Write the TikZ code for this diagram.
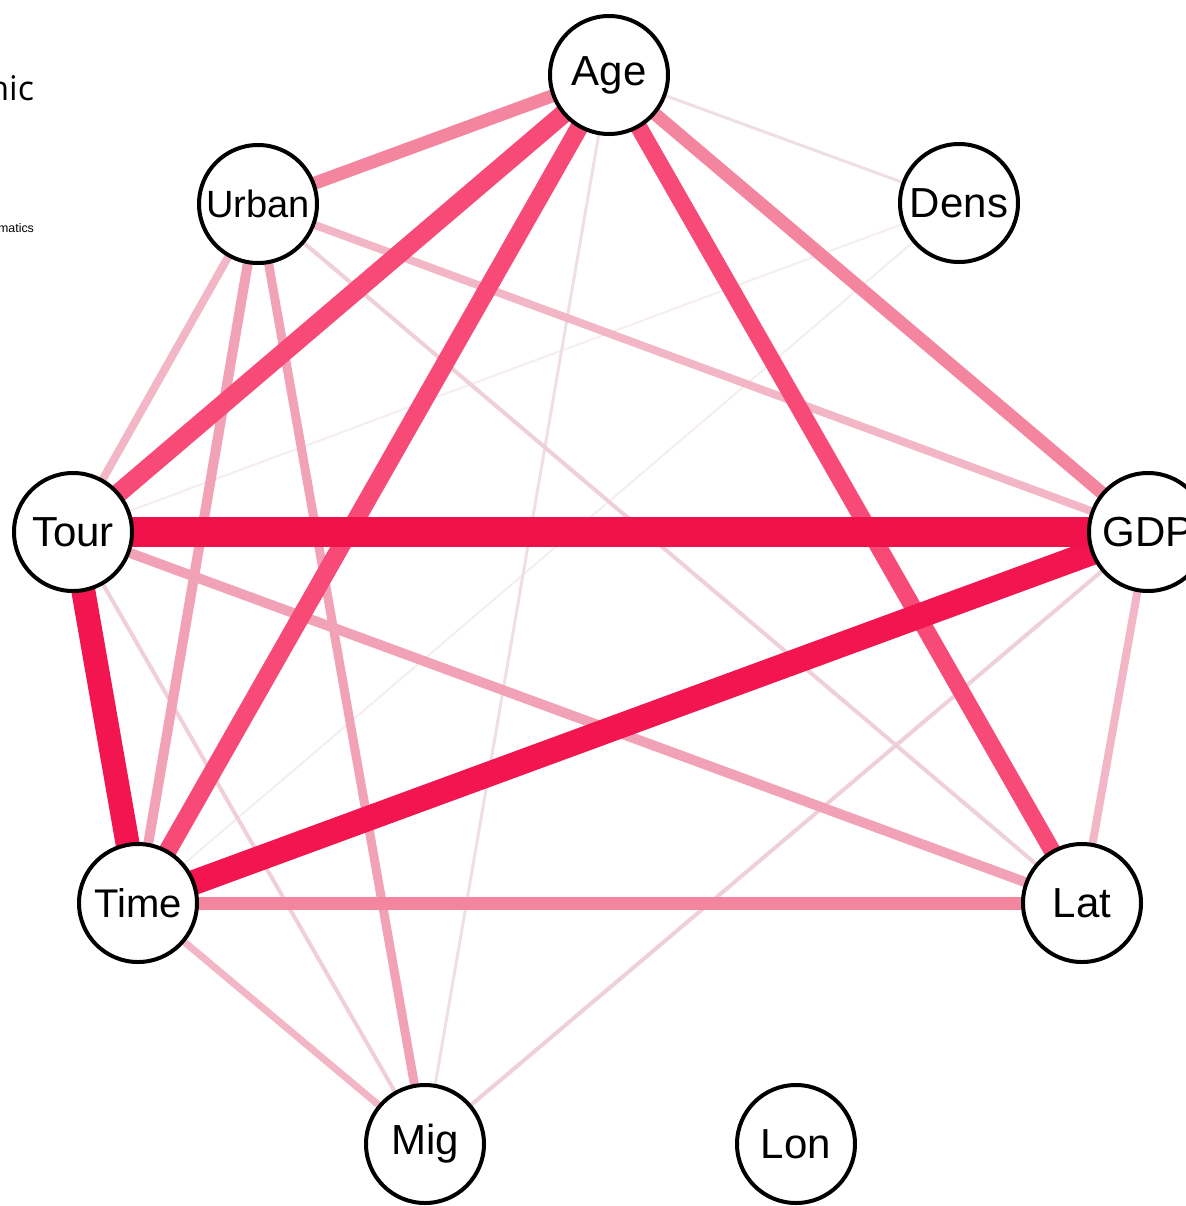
\documentclass[tikz,border=0pt]{standalone}
\usepackage{fontspec}
\setmainfont{Liberation Sans}
\newfontfamily\opensans{Open Sans}
\usetikzlibrary{backgrounds}
\definecolor{netA}{HTML}{F0104A}
\definecolor{netB}{HTML}{F21550}
\definecolor{netC}{HTML}{F74A76}
\definecolor{netD}{HTML}{F4859F}
\definecolor{netE}{HTML}{F2A2B7}
\definecolor{netF}{HTML}{F2B6C6}
\definecolor{netG}{HTML}{EFCFD8}
\definecolor{netH}{HTML}{EEDFE4}
\definecolor{netI}{HTML}{F5EDF0}
\begin{document}
\begin{tikzpicture}[x=0.5pt,y=-0.5pt,line cap=butt]
\tikzset{var/.style={circle,draw=black,line width=2pt,fill=white,minimum size=59pt,inner sep=0pt,font=\fontsize{21}{21}\selectfont},
  edgeA/.style={netA,line width=15pt},
  edgeB/.style={netB,line width=12.5pt},
  edgeC/.style={netC,line width=9.5pt},
  edgeD/.style={netD,line width=6.5pt},
  edgeE/.style={netE,line width=5pt},
  edgeF/.style={netF,line width=4pt},
  edgeG/.style={netG,line width=2pt},
  edgeH/.style={netH,line width=1.5pt},
  edgeI/.style={netI,line width=1pt}}
\useasboundingbox (0,0) rectangle (1186,1206);
\clip (0,0) rectangle (1186,1206);
\node[anchor=base east,font=\opensans\fontsize{17}{17}\selectfont] (head) at (41,100) {nic};
\node[anchor=base east,font=\fontsize{6.2}{6.2}\selectfont] (sub) at (41,232) {matics};
\node[var] (age) at (609,75) {Age};
\node[var,font=\fontsize{19}{19}\selectfont] (urban) at (258,204) {Urban};
\node[var] (dens) at (959,203) {Dens};
\node[var] (tour) at (73,532) {Tour};
\node[var] (gdp) at (1148,532) {GDP};
\node[var,font=\fontsize{20}{20}\selectfont] (time) at (138,903) {Time};
\node[var] (lat) at (1082,903) {Lat};
\node[var] (mig) at (425,1144) {Mig};
\node[var] (lon) at (796,1144) {Lon};
\begin{scope}[on background layer]
\draw[edgeI] (dens.center) -- (time.center);
\draw[edgeI] (dens.center) -- (tour.center);
\draw[edgeH] (age.center) -- (mig.center);
\draw[edgeH] (age.center) -- (dens.center);
\draw[edgeG] (gdp.center) -- (mig.center);
\draw[edgeG] (tour.center) -- (mig.center);
\draw[edgeG] (urban.center) -- (lat.center);
\draw[edgeF] (urban.center) -- (gdp.center);
\draw[edgeF] (urban.center) -- (tour.center);
\draw[edgeF] (gdp.center) -- (lat.center);
\draw[edgeF,line width=3.5pt] (time.center) -- (mig.center);
\draw[edgeE] (tour.center) -- (lat.center);
\draw[edgeE] (urban.center) -- (time.center);
\draw[edgeE,line width=4.5pt] (urban.center) -- (mig.center);
\draw[edgeD] (age.center) -- (urban.center);
\draw[edgeD] (age.center) -- (gdp.center);
\draw[edgeD] (time.center) -- (lat.center);
\draw[edgeC] (age.center) -- (tour.center);
\draw[edgeC,line width=9pt] (age.center) -- (time.center);
\draw[edgeC,line width=8.5pt] (age.center) -- (lat.center);
\draw[edgeB,line width=12pt] (tour.center) -- (time.center);
\draw[edgeB] (time.center) -- (gdp.center);
\draw[edgeA] (tour.center) -- (gdp.center);
\end{scope}
\end{tikzpicture}
\end{document}
